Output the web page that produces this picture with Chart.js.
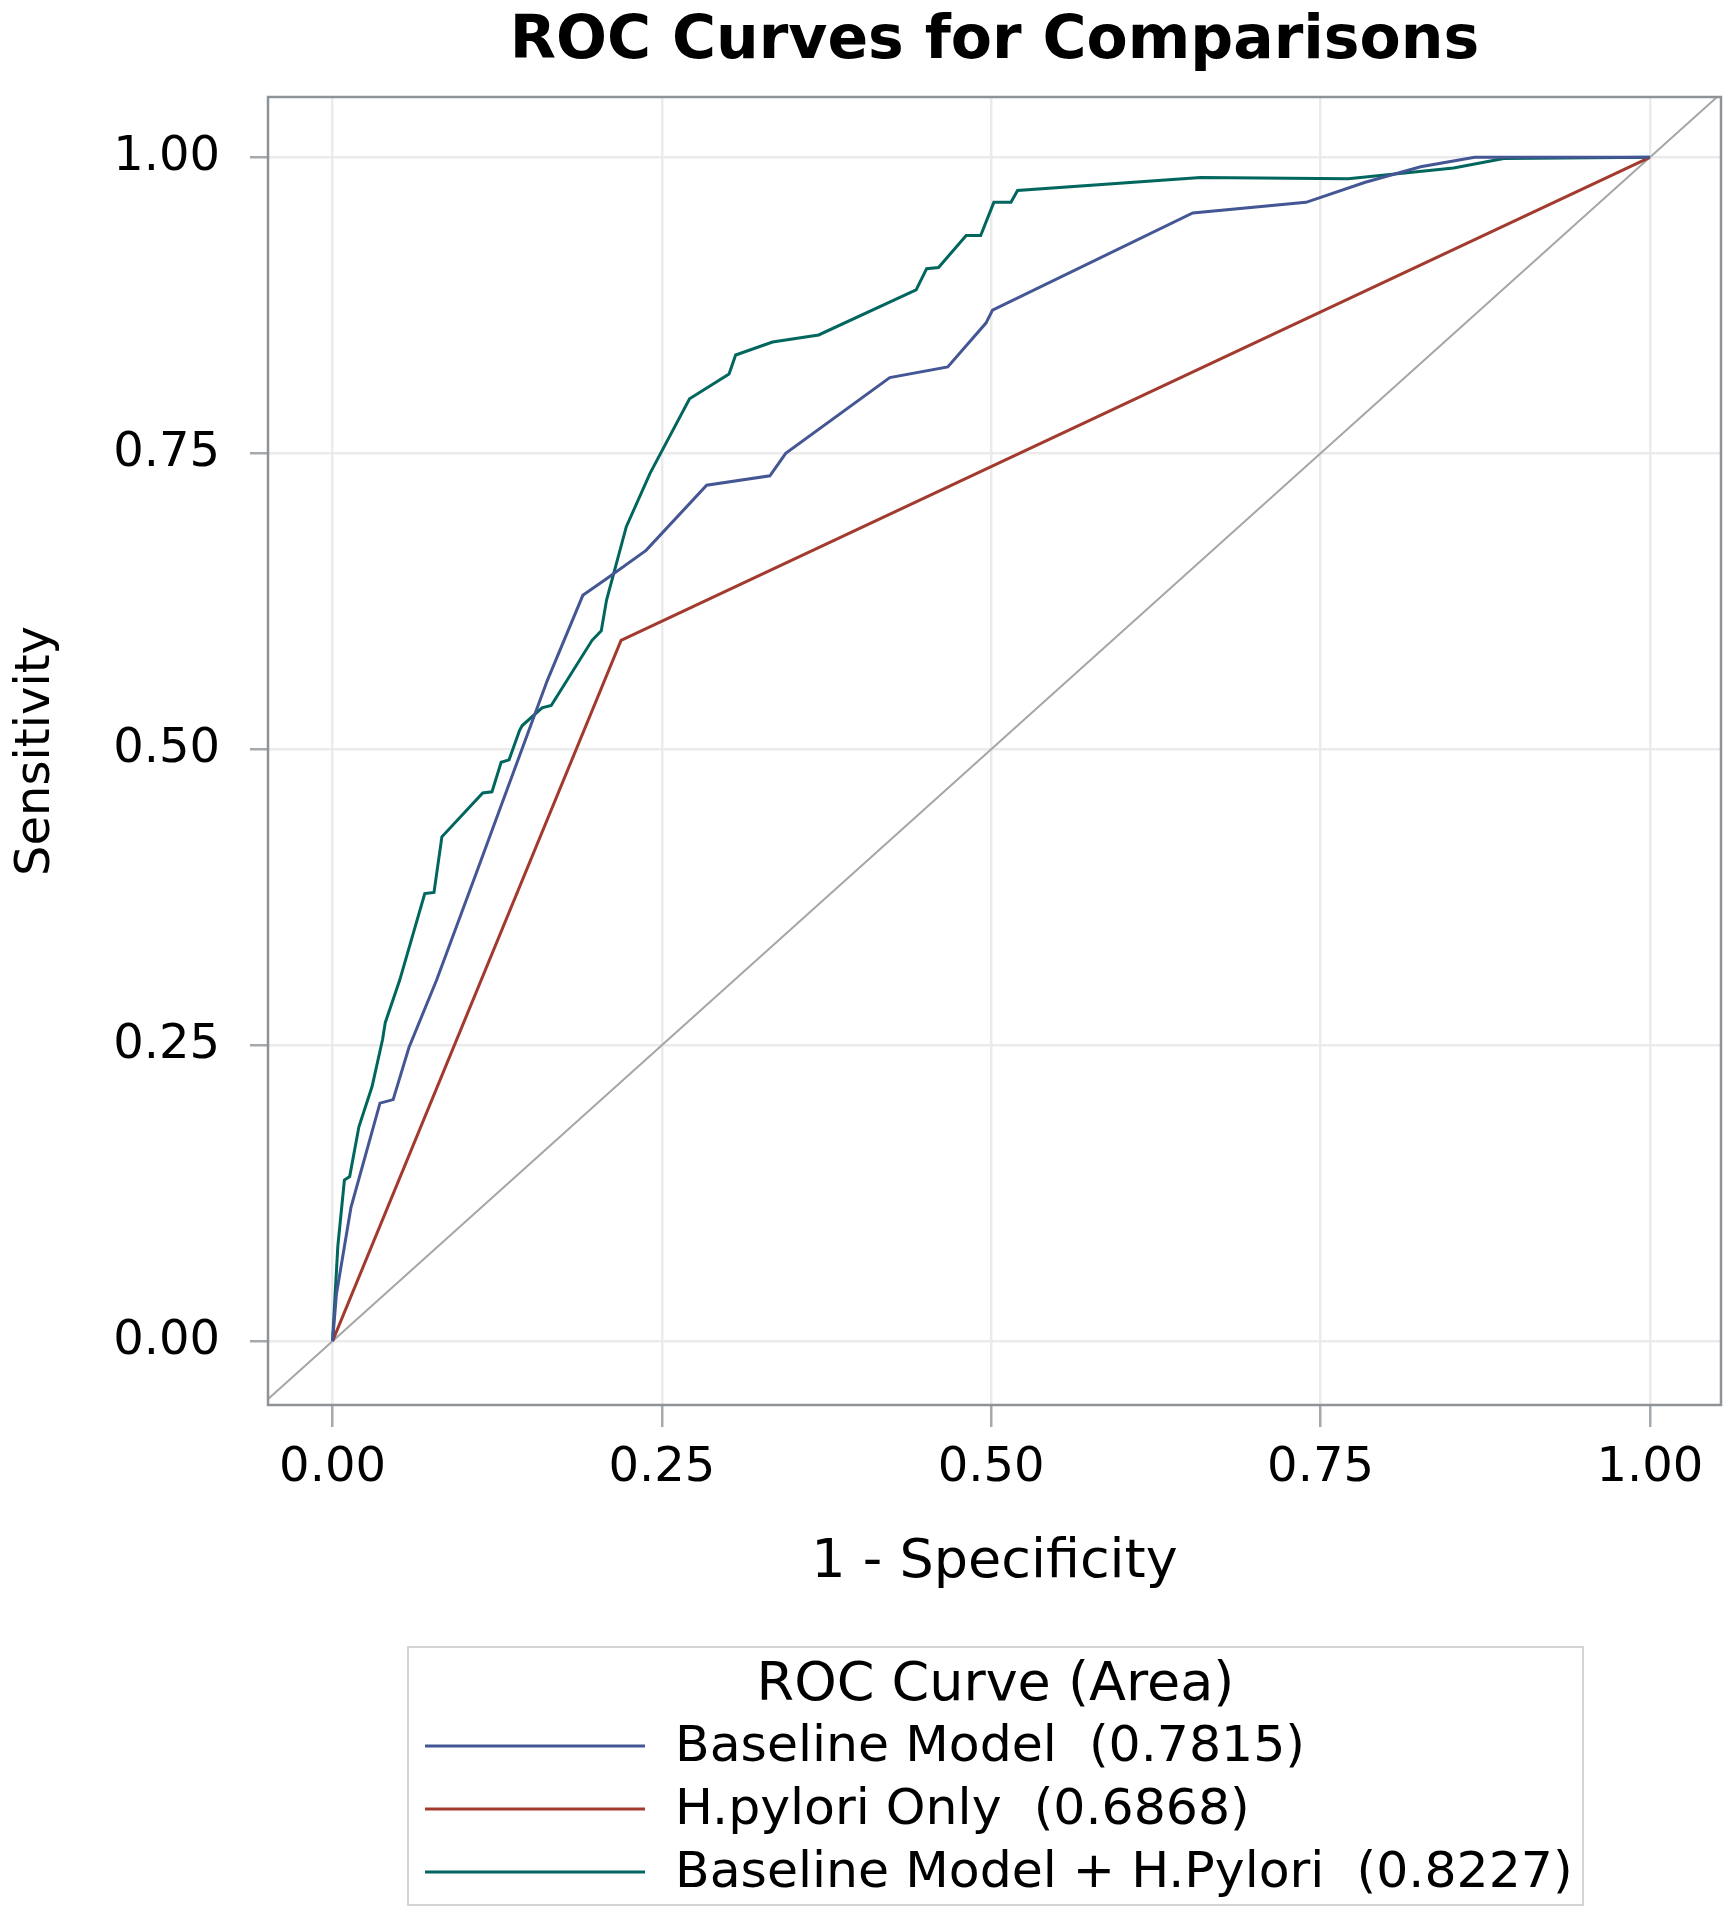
<!DOCTYPE html>
<html>
<head>
<meta charset="utf-8">
<script src="https://cdn.jsdelivr.net/npm/chart.js"></script>
<style>
  body { margin: 0; background: #fff; }
</style>
</head>
<body>
<canvas id="roc" width="1736" height="1920"></canvas>
<script>
// ROC curve points (1 - specificity, sensitivity)
var baseX = [0, 0.003, 0.009, 0.014, 0.036, 0.046, 0.058, 0.079, 0.109, 0.163, 0.190, 0.208, 0.238, 0.284, 0.332, 0.344, 0.423, 0.467, 0.496, 0.501, 0.653, 0.739, 0.784, 0.826, 0.867, 1];
var baseY = [0, 0.04, 0.08, 0.113, 0.201, 0.204, 0.248, 0.305, 0.395, 0.558, 0.630, 0.644, 0.668, 0.723, 0.731, 0.750, 0.814, 0.823, 0.860, 0.871, 0.953, 0.962, 0.979, 0.992, 1, 1];

var hpX = [0, 0.219, 1];
var hpY = [0, 0.592, 1];

var bothX = [0, 0.004, 0.009, 0.013, 0.020, 0.030, 0.038, 0.040, 0.051, 0.070, 0.077, 0.083, 0.114, 0.121, 0.128, 0.134, 0.142, 0.144, 0.159, 0.166, 0.197, 0.204, 0.208, 0.223, 0.241, 0.271, 0.301, 0.306, 0.334, 0.369, 0.443, 0.451, 0.460, 0.481, 0.492, 0.502, 0.515, 0.520, 0.659, 0.771, 0.851, 0.889, 1];
var bothY = [0, 0.08, 0.136, 0.139, 0.181, 0.215, 0.255, 0.269, 0.305, 0.378, 0.379, 0.426, 0.463, 0.464, 0.489, 0.491, 0.516, 0.520, 0.535, 0.537, 0.592, 0.600, 0.626, 0.688, 0.733, 0.796, 0.817, 0.833, 0.844, 0.850, 0.888, 0.906, 0.907, 0.934, 0.934, 0.962, 0.962, 0.972, 0.983, 0.982, 0.991, 0.999, 1];

// reference diagonal
var diagX = [-0.2, 1.2];
var diagY = [-0.2, 1.2];

var seriesNames = ["Baseline Model  (0.7815)", "H.pylori Only  (0.6868)", "Baseline Model + H.Pylori  (0.8227)"];
var tickVals = [0, 0.25, 0.5, 0.75, 1];

function pts(xs, ys) {
  return xs.map(function(x, i){ return {x: x, y: ys[i]}; });
}

var FONT = "'DejaVu Sans', sans-serif";

// frame round the plot area
var framePlugin = {
  id: 'frame',
  afterDatasetsDraw: function(chart) {
    var a = chart.chartArea, ctx = chart.ctx;
    ctx.save();
    ctx.strokeStyle = '#8e9398';
    ctx.lineWidth = 2.5;
    ctx.strokeRect(a.left, a.top, a.right - a.left, a.bottom - a.top);
    ctx.restore();
  }
};

// boxed legend under the x axis
var legendPlugin = {
  id: 'boxLegend',
  afterDraw: function(chart) {
    var ctx = chart.ctx;
    var bx = 408, by = 1647, bw = 1175, bh = 258;
    ctx.save();
    ctx.strokeStyle = '#d4d4d4';
    ctx.lineWidth = 2;
    ctx.strokeRect(bx, by, bw, bh);
    ctx.fillStyle = '#000';
    ctx.textBaseline = 'middle';
    ctx.font = '54px ' + FONT;
    ctx.textAlign = 'center';
    ctx.fillText('ROC Curve (Area)', bx + bw / 2, 1686);
    ctx.textAlign = 'left';
    ctx.font = '50.5px ' + FONT;
    var rows = [1746, 1809, 1872];
    for (var i = 0; i < 3; i++) {
      var ds = chart.data.datasets[i];
      ctx.strokeStyle = ds.borderColor;
      ctx.lineWidth = 3;
      ctx.beginPath();
      ctx.moveTo(425, rows[i]);
      ctx.lineTo(645, rows[i]);
      ctx.stroke();
      ctx.fillText(ds.label, 675, rows[i] + 2);
    }
    ctx.restore();
  }
};

new Chart(document.getElementById('roc'), {
  type: 'scatter',
  data: {
    datasets: [{
      label: seriesNames[0],
      data: pts(baseX, baseY),
      borderColor: '#445694',
      borderWidth: 3,
      showLine: true,
      pointRadius: 0,
      tension: 0
    }, {
      label: seriesNames[1],
      data: pts(hpX, hpY),
      borderColor: '#a23a2e',
      borderWidth: 3,
      showLine: true,
      pointRadius: 0,
      tension: 0
    }, {
      label: seriesNames[2],
      data: pts(bothX, bothY),
      borderColor: '#01665e',
      borderWidth: 3,
      showLine: true,
      pointRadius: 0,
      tension: 0
    }, {
      label: 'diagonal',
      data: pts(diagX, diagY),
      borderColor: '#a6a6a6',
      borderWidth: 2,
      showLine: true,
      pointRadius: 0,
      order: 5
    }]
  },
  options: {
    responsive: false,
    animation: false,
    devicePixelRatio: 1,
    layout: { padding: { left: 0, right: 15, top: 0, bottom: 315 } },
    plugins: {
      legend: { display: false },
      tooltip: { enabled: false },
      title: {
        display: true,
        fullSize: false,
        text: 'ROC Curves for Comparisons',
        color: '#000',
        font: { family: FONT, size: 60, weight: 'bold' },
        padding: { top: 6, bottom: 19 }
      }
    },
    scales: {
      x: {
        type: 'linear',
        min: -0.049,
        max: 1.054,
        afterBuildTicks: function(s) { s.ticks = tickVals.map(function(v){ return {value: v}; }); },
        afterFit: function(s) { s.height = 200; },
        ticks: {
          color: '#000',
          font: { family: FONT, size: 48 },
          padding: 13,
          maxRotation: 0,
          callback: function(v) { return v.toFixed(2); }
        },
        grid: { color: '#ebebeb', lineWidth: 2.5, tickColor: '#a4a9ae', tickLength: 22, tickWidth: 2.5 },
        border: { display: false },
        title: {
          display: true,
          text: '1 - Specificity',
          color: '#000',
          font: { family: FONT, size: 54 },
          padding: { top: 0, bottom: 10 }
        }
      },
      y: {
        type: 'linear',
        min: -0.054,
        max: 1.051,
        afterBuildTicks: function(s) { s.ticks = tickVals.map(function(v){ return {value: v}; }); },
        afterFit: function(s) { s.width = 268; },
        ticks: {
          color: '#000',
          font: { family: FONT, size: 48 },
          padding: 30,
          callback: function(v) { return v.toFixed(2); }
        },
        grid: { color: '#ebebeb', lineWidth: 2.5, tickColor: '#a4a9ae', tickLength: 18, tickWidth: 2.5 },
        border: { display: false },
        title: {
          display: true,
          text: 'Sensitivity',
          color: '#000',
          font: { family: FONT, size: 48 },
          padding: { top: 8, bottom: 0 }
        }
      }
    }
  },
  plugins: [framePlugin, legendPlugin]
});
</script>
</body>
</html>
